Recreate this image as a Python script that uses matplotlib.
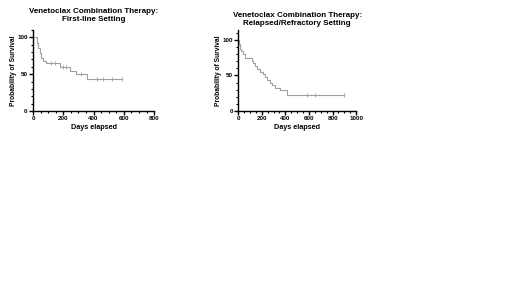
import numpy as np
import matplotlib.pyplot as plt
from matplotlib.ticker import MultipleLocator

plt.rcParams['font.family'] = ['Liberation Sans', 'DejaVu Sans']
plt.rcParams['font.weight'] = 'bold'

# first-line setting (Kaplan-Meier steps)
t1 = [0, 26, 35, 45, 55, 66, 88, 177, 243, 283, 358, 590]
s1 = [100, 93, 86, 79, 72, 68, 65, 60, 55, 50, 43, 43]
c1_t = [120, 145, 195, 215, 320, 420, 460, 520, 590]
c1_s = [65, 65, 60, 60, 50, 43, 43, 43, 43]

# relapsed/refractory setting
t2 = [0, 8, 14, 25, 43, 57, 114, 128, 145, 162, 185, 213, 230, 247, 270, 290, 312, 355, 417, 900]
s2 = [100, 94, 88, 84, 80, 75, 71, 67, 63, 59, 55, 52, 48, 44, 40, 37, 33, 29, 22, 22]
c2_t = [580, 650, 900]
c2_s = [22, 22, 22]

fig = plt.figure(figsize=(5.2, 2.92), dpi=100)
ax1 = fig.add_axes([0.0635, 0.620, 0.233, 0.277])
ax2 = fig.add_axes([0.458, 0.620, 0.227, 0.277])

def style(ax, xmax, ymax):
    ax.set_xlim(0, xmax)
    ax.set_ylim(0, ymax)
    ax.spines['top'].set_visible(False)
    ax.spines['right'].set_visible(False)
    for s in ['left', 'bottom']:
        ax.spines[s].set_linewidth(1.0)
    ax.xaxis.set_major_locator(MultipleLocator(200))
    ax.xaxis.set_minor_locator(MultipleLocator(50))
    ax.yaxis.set_major_locator(MultipleLocator(50))
    ax.yaxis.set_minor_locator(MultipleLocator(10))
    ax.tick_params(which='major', length=3, width=1, labelsize=4.5, pad=0.8)
    ax.tick_params(which='minor', length=1.5, width=0.8)
    ax.set_xlabel('Days elapsed', fontsize=5.2, fontweight='bold', labelpad=2)
    ax.set_ylabel('Probability of Survival', fontsize=4.8, fontweight='bold', labelpad=0.5)

ax1.step(t1, s1, where='post', color='#a0a0a0', lw=0.8)
ax1.plot(c1_t, c1_s, '|', color='#a0a0a0', ms=2.5, mew=0.6)
style(ax1, 800, 110)
ax1.set_title('Venetoclax Combination Therapy:\nFirst-line Setting', fontsize=5.8,
              fontweight='bold', pad=6.5, linespacing=1.2)

ax2.step(t2, s2, where='post', color='#a0a0a0', lw=0.8)
ax2.plot(c2_t, c2_s, '|', color='#a0a0a0', ms=2.5, mew=0.6)
style(ax2, 1000, 114)
ax2.set_title('Venetoclax Combination Therapy:\nRelapsed/Refractory Setting', fontsize=5.8,
              fontweight='bold', pad=3.6, linespacing=1.15)

fig.savefig('out.png', dpi=100)
